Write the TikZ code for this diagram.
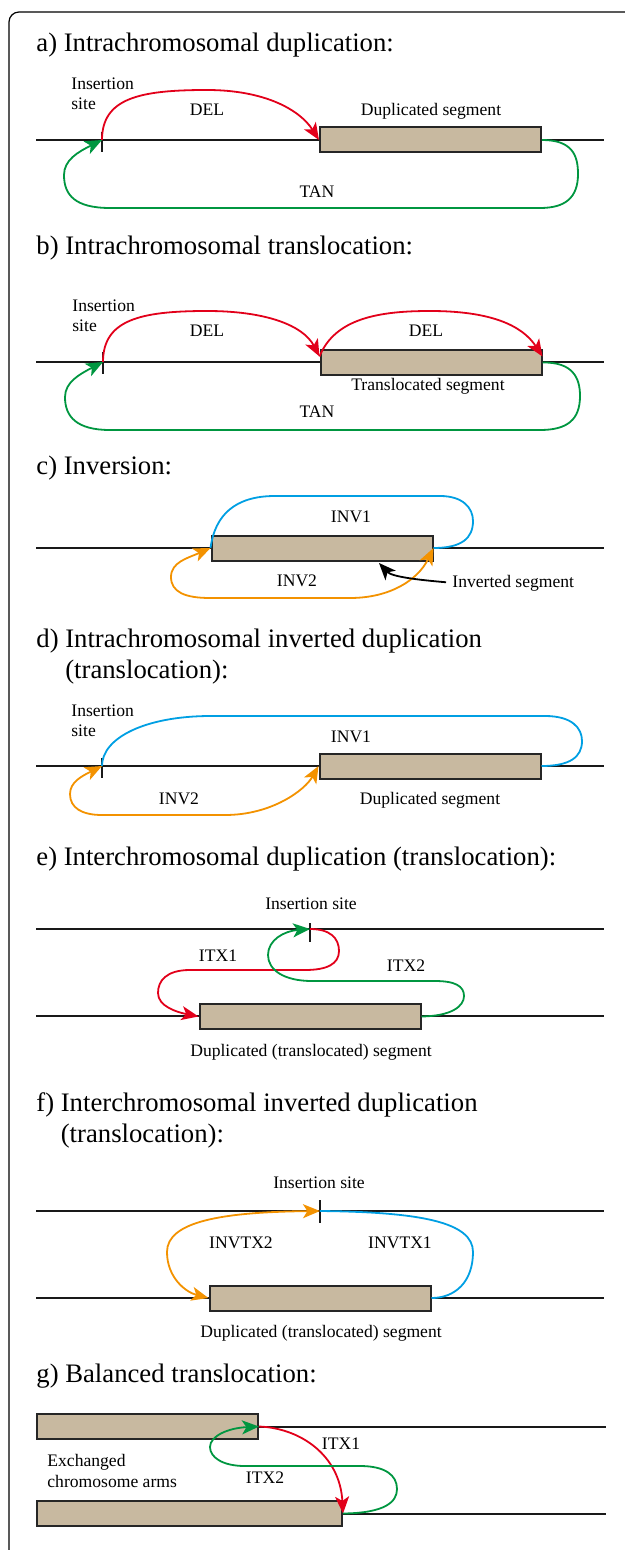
\documentclass[tikz,border=0pt]{standalone}
\usepackage{fontspec}
\setmainfont{Liberation Serif}
\usetikzlibrary{arrows.meta}

\definecolor{segfill}{RGB}{200,185,160}
\definecolor{delred}{RGB}{226,0,26}
\definecolor{tangreen}{RGB}{0,150,64}
\definecolor{invblue}{RGB}{0,159,227}
\definecolor{invorange}{RGB}{243,146,0}

\begin{document}
\begin{tikzpicture}[x=0.5pt, y=-0.5pt,
    >={Stealth[length=8.5pt, width=7pt, inset=2.2pt]},
    chrom/.style={line width=1pt, black!90},
    seg/.style={draw=black!85, line width=1pt, fill=segfill, inner sep=0pt,
        minimum width=110.5pt, minimum height=12.5pt},
    sitemark/.style={line width=0.8pt, black!90},
    heading/.style={inner sep=0pt, anchor=base west, align=left,
        font=\fontsize{13.35}{15.5}\selectfont},
    lbl/.style={inner sep=0pt, anchor=base, font=\fontsize{8.8}{10}\selectfont},
    redline/.style={line width=0.9pt, delred},
    greenline/.style={line width=0.9pt, tangreen},
    blueline/.style={line width=0.9pt, invblue},
    orangeline/.style={line width=0.9pt, invorange}]

\useasboundingbox (0,0) rectangle (625,1550);
\draw[line width=0.6pt, rounded corners=5pt] (9,1600) -- (9,12) -- (680,12);

% a) intrachromosomal duplication
\node[heading] (ta) at (36,52) {a) Intrachromosomal duplication:};
\coordinate (aL) at (36,140);
\coordinate (aR) at (604,140);
\coordinate (insA) at (102,140);
\draw[chrom] (aL) -- (aR);
\node[seg] (segA) at (430.5,140) {};
\draw[sitemark] ([yshift=4pt]insA) -- ([yshift=-6pt]insA);
\node[lbl, anchor=base west, align=left] (isA) at (71,110) {Insertion\\site};
\node[lbl] (delA) at (207,115.5) {DEL};
\node[lbl] (dupA) at (431,115.5) {Duplicated segment};
\node[lbl] (tanA) at (317,197.5) {TAN};
\draw[redline, ->] (insA) .. controls (102,98) and (140,90) .. (207,90)
    .. controls (265,90) and (300,110) .. (segA.west);
\draw[greenline, ->] (segA.east) .. controls (572,140) and (578,155) .. (578,174)
    .. controls (578,198) and (565,208) .. (540,208) -- (110,208)
    .. controls (75,208) and (64,195) .. (64,175)
    .. controls (64,160) and (78,152) .. (insA);

% b) intrachromosomal translocation
\node[heading] (tb) at (36,255) {b) Intrachromosomal translocation:};
\coordinate (bL) at (36,362);
\coordinate (bR) at (604,362);
\coordinate (insB) at (103,362);
\draw[chrom] (bL) -- (bR);
\node[seg] (segB) at (431,362.5) {};
\draw[sitemark] ([yshift=5pt]insB) -- ([yshift=-6pt]insB);
\node[lbl, anchor=base west, align=left] (isB) at (72,332) {Insertion\\site};
\node[lbl] (delB1) at (207,337) {DEL};
\node[lbl] (delB2) at (426,337) {DEL};
\node[lbl] (trB) at (428,391) {Translocated segment};
\node[lbl] (tanB) at (317,418) {TAN};
\draw[redline, ->] (insB) .. controls (103,320) and (140,311) .. (207,311)
    .. controls (265,311) and (303,325) .. ([yshift=3pt]segB.west);
\draw[redline, ->] ([yshift=3pt]segB.west) .. controls (335,318) and (380,311) .. (430,311)
    .. controls (490,311) and (522,325) .. ([yshift=3pt]segB.east);
\draw[greenline, ->] (segB.east) .. controls (573,362) and (580,378) .. (580,396)
    .. controls (580,420) and (567,430) .. (540,430) -- (110,430)
    .. controls (77,430) and (65,417) .. (65,397)
    .. controls (65,382) and (80,374) .. (insB);

% c) inversion
\node[heading] (tc) at (36,475) {c) Inversion:};
\coordinate (cL) at (36,548);
\coordinate (cR) at (604,548);
\coordinate (invtip) at (379,563);
\draw[chrom] (cL) -- (cR);
\node[seg] (segC) at (322,548) {};
\node[lbl] (invC1) at (351,523) {INV1};
\node[lbl] (invC2) at (297,586) {INV2};
\node[lbl, anchor=base west] (invC) at (452,587) {Inverted segment};
\draw[blueline] (segC.west) .. controls (215,515) and (235,496) .. (275,496) -- (440,496)
    .. controls (463,496) and (473,508) .. (473,521)
    .. controls (473,538) and (462,548) .. (segC.east);
\draw[orangeline, <->] (segC.west) .. controls (188,558) and (171,562) .. (171,577)
    .. controls (171,592) and (185,598) .. (210,598) -- (350,598)
    .. controls (390,598) and (418,580) .. (segC.east);
\draw[line width=0.9pt, ->, shorten <=3pt] (invC.west) .. controls (420,580) and (392,577) .. (invtip);

% d) intrachromosomal inverted duplication
\node[heading] (td) at (36,678) {d) Intrachromosomal inverted duplication\\\hphantom{d) }(translocation):};
\coordinate (dL) at (36,766);
\coordinate (dR) at (604,766);
\coordinate (insD) at (102,766);
\draw[chrom] (dL) -- (dR);
\node[seg] (segD) at (430,766) {};
\draw[sitemark] ([yshift=4pt]insD) -- ([yshift=-6pt]insD);
\node[lbl, anchor=base west, align=left] (isD) at (71,736) {Insertion\\site};
\node[lbl] (invD1) at (351,742) {INV1};
\node[lbl] (invD2) at (179,804) {INV2};
\node[lbl] (dupD) at (430,804) {Duplicated segment};
\draw[blueline] (insD) .. controls (102,738) and (145,716) .. (211,716) -- (545,716)
    .. controls (572,716) and (582,728) .. (582,741)
    .. controls (582,757) and (570,766) .. (segD.east);
\draw[orangeline, <->] (insD) .. controls (82,776) and (70,782) .. (70,794)
    .. controls (70,808) and (82,815) .. (102,815) -- (225,815)
    .. controls (272,815) and (305,790) .. (segD.west);

% e) interchromosomal duplication
\node[heading] (te) at (36,865) {e) Interchromosomal duplication (translocation):};
\coordinate (eL1) at (36,929);
\coordinate (eR1) at (604,929);
\coordinate (eL2) at (36,1016);
\coordinate (eR2) at (604,1016);
\coordinate (insE) at (310,929);
\draw[chrom] (eL1) -- (eR1);
\draw[chrom] (eL2) -- (eR2);
\node[seg] (segE) at (310,1016.5) {};
\draw[sitemark] ([yshift=3pt]insE) -- ([yshift=-6.5pt]insE);
\node[lbl] (isE) at (311,909) {Insertion site};
\node[lbl] (itxE1) at (218,961) {ITX1};
\node[lbl] (itxE2) at (406,971) {ITX2};
\node[lbl] (dupE) at (311,1056) {Duplicated (translocated) segment};
\draw[redline, ->] (insE) .. controls (330,929) and (339,938) .. (339,951)
    .. controls (339,964) and (327,970) .. (305,970) -- (190,970)
    .. controls (166,970) and (158,981) .. (158,993)
    .. controls (158,1006) and (176,1012) .. (segE.west);
\draw[greenline, ->] (segE.east) .. controls (452,1016) and (464,1006) .. (464,996)
    .. controls (464,986) and (455,981) .. (435,981) -- (312,981)
    .. controls (284,981) and (268,970) .. (268,955)
    .. controls (268,940) and (284,931) .. (insE);

% f) interchromosomal inverted duplication
\node[heading] (tf) at (36,1142) {f) Interchromosomal inverted duplication\\\hphantom{f) }(translocation):};
\coordinate (fL1) at (36,1211);
\coordinate (fR1) at (604,1211);
\coordinate (fL2) at (36,1298);
\coordinate (fR2) at (604,1298);
\coordinate (insF) at (320,1211);
\draw[chrom] (fL1) -- (fR1);
\draw[chrom] (fL2) -- (fR2);
\node[seg] (segF) at (320,1298) {};
\draw[sitemark] ([yshift=5.5pt]insF) -- ([yshift=-6pt]insF);
\node[lbl] (isF) at (319,1188) {Insertion site};
\node[lbl] (invtxF2) at (241,1248) {INVTX2};
\node[lbl] (invtxF1) at (400,1248) {INVTX1};
\node[lbl] (dupF) at (321,1337) {Duplicated (translocated) segment};
\draw[orangeline, <->] (segF.west) .. controls (185,1292) and (167,1277) .. (167,1252)
    .. controls (167,1222) and (220,1212) .. (insF);
\draw[blueline] (insF) .. controls (420,1212) and (473,1222) .. (473,1252)
    .. controls (473,1282) and (455,1298) .. (segF.east);

% g) balanced translocation
\node[heading] (tg) at (36,1382) {g) Balanced translocation:};
\node[seg] (armG1) at (147.5,1426.5) {};
\node[seg, minimum width=152.5pt] (armG2) at (189.5,1513.5) {};
\coordinate (gR1) at (606,1426.5);
\coordinate (gR2) at (606,1513.5);
\draw[chrom] (armG1.east) -- (gR1);
\draw[chrom] (armG2.east) -- (gR2);
\node[lbl, anchor=base west, align=left, font=\fontsize{8.8}{10.5}\selectfont] (exG) at (47,1487) {Exchanged\\chromosome arms};
\node[lbl] (itxG1) at (341,1449) {ITX1};
\node[lbl] (itxG2) at (265,1483) {ITX2};
\draw[redline, ->] (armG1.east) .. controls (300,1428) and (340,1455) .. (armG2.east);
\draw[greenline, ->] (armG2.east) .. controls (385,1513) and (397,1502) .. (397,1489)
    .. controls (397,1475) and (385,1466) .. (360,1466) -- (245,1466)
    .. controls (222,1466) and (210,1457) .. (210,1447)
    .. controls (210,1436) and (228,1428) .. (armG1.east);

\end{tikzpicture}
\end{document}
